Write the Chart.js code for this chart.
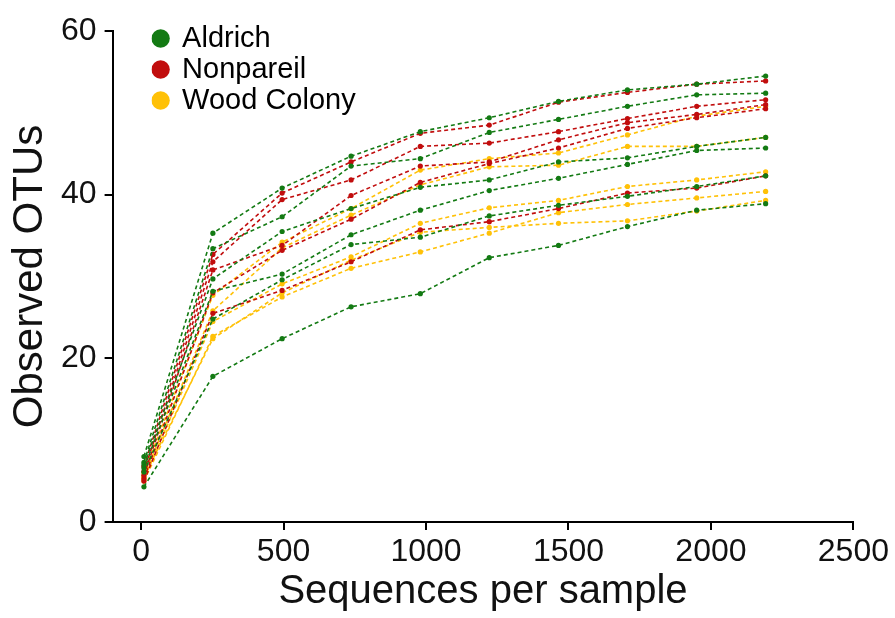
<!DOCTYPE html>
<html>
<head>
<meta charset="utf-8">
<script src="https://cdn.jsdelivr.net/npm/chart.js@4.4.1/dist/chart.umd.min.js"></script>
<style>
  html, body { margin: 0; padding: 0; background: #fff; }
</style>
</head>
<body>
<canvas id="chart" width="895" height="618"></canvas>
<script>
// rarefaction depths (x)
const sequences = [10, 252, 495, 737, 980, 1222, 1465, 1707, 1950, 2192];
const xTickValues = [0, 500, 1000, 1500, 2000, 2500];

// observed OTUs per sample
const aldrich = [
  [8.0, 35.3, 40.8, 44.7, 47.7, 49.4, 51.4, 52.8, 53.5, 54.5],
  [7.3, 33.4, 37.3, 43.5, 44.4, 47.6, 49.2, 50.8, 52.2, 52.4],
  [7.0, 29.7, 35.5, 38.3, 40.9, 41.8, 44.0, 44.5, 45.9, 47.0],
  [6.6, 28.2, 30.3, 35.1, 38.1, 40.5, 42.0, 43.7, 45.4, 45.7],
  [6.1, 24.8, 29.6, 33.9, 34.8, 37.4, 38.7, 39.8, 41.0, 42.3],
  [4.3, 17.8, 22.4, 26.3, 27.9, 32.3, 33.8, 36.1, 38.1, 38.9],
];
const nonpareil = [
  [6.8, 32.7, 40.2, 44.0, 47.5, 48.5, 51.3, 52.5, 53.5, 53.9],
  [6.2, 31.8, 39.4, 41.8, 45.9, 46.3, 47.7, 49.3, 50.8, 51.6],
  [5.7, 30.8, 33.8, 39.9, 43.5, 44.0, 46.7, 48.8, 49.8, 51.0],
  [5.3, 28.0, 33.2, 37.0, 41.5, 43.8, 45.7, 48.1, 49.4, 50.5],
  [5.0, 25.5, 28.3, 31.8, 35.7, 36.7, 38.3, 40.2, 40.8, 42.3],
];
const woodColony = [
  [6.0, 27.7, 34.2, 38.3, 43.0, 44.4, 45.1, 47.3, 49.6, 50.8],
  [5.6, 25.8, 33.5, 37.5, 41.2, 43.4, 43.6, 45.9, 45.9, 47.0],
  [5.3, 24.5, 29.1, 32.4, 36.5, 38.4, 39.3, 41.0, 41.8, 42.8],
  [5.0, 22.7, 27.5, 31.0, 33.0, 35.3, 37.8, 38.8, 39.6, 40.4],
  [5.5, 22.4, 28.0, 32.0, 35.4, 36.0, 36.5, 36.8, 38.0, 39.3],
];

const siteNames = ["Aldrich", "Nonpareil", "Wood Colony"];
const siteColors = ["#137a13", "#c10d0d", "#ffc107"];
const siteCurves = [aldrich, nonpareil, woodColony];

Chart.defaults.font.family = "'Liberation Sans', Arial, sans-serif";
Chart.defaults.color = "#111";

const datasets = [];
siteCurves.forEach((curves, s) => {
  curves.forEach((ys) => {
    datasets.push({
      label: siteNames[s],
      data: ys.map((y, i) => ({ x: sequences[i], y: y })),
      borderColor: siteColors[s],
      backgroundColor: siteColors[s],
      pointBackgroundColor: siteColors[s],
      borderWidth: 1.6,
      borderDash: [4, 3],
      pointRadius: 2.6,
      pointBorderWidth: 0,
      tension: 0,
    });
  });
});

// move the legend into the top-left corner of the plot
const legendShift = {
  id: "legendShift",
  afterLayout(chart) {
    chart.legend.left = chart.chartArea.left + 39;
    chart.legend.top = chart.chartArea.top - 9;
  },
};

const ctx = document.getElementById("chart").getContext("2d");
new Chart(ctx, {
  type: "line",
  data: { datasets },
  plugins: [legendShift],
  options: {
    responsive: false,
    animation: false,
    devicePixelRatio: 1,
    layout: { padding: { top: 31, right: 2, left: 9, bottom: 8 } },
    plugins: {
      tooltip: { enabled: false },
      legend: {
        position: "chartArea",
        align: "start",
        labels: {
          usePointStyle: true,
          pointStyle: "circle",
          boxWidth: 14,
          boxHeight: 13,
          padding: 2,
          font: { size: 29 },
          color: "#111",
          generateLabels() {
            return siteNames.map((name, s) => ({
              text: name,
              fillStyle: siteColors[s],
              strokeStyle: siteColors[s],
              lineWidth: 0,
              lineDash: [],
              pointStyle: "circle",
              hidden: false,
              datasetIndex: datasets.findIndex((d) => d.label === name),
            }));
          },
        },
      },
    },
    scales: {
      x: {
        type: "linear",
        min: -100,
        max: 2500,
        afterBuildTicks(scale) {
          scale.ticks = xTickValues.map((v) => ({ value: v }));
        },
        ticks: {
          font: { size: 32, lineHeight: 1.0 },
          color: "#111",
          padding: 6,
          maxRotation: 0,
          callback: (v) => String(v),
        },
        grid: { drawOnChartArea: false, drawTicks: true, tickLength: 8, color: "#000", lineWidth: 2 },
        border: { display: true, color: "#000", width: 2 },
        title: { display: true, text: "Sequences per sample", font: { size: 40, lineHeight: 0.9 }, color: "#111", padding: { top: 0, bottom: 0 } },
      },
      y: {
        min: 0,
        max: 60,
        ticks: { stepSize: 20, font: { size: 32, lineHeight: 1.0 }, color: "#111", padding: 8 },
        grid: { drawOnChartArea: false, drawTicks: true, tickLength: 8, color: "#000", lineWidth: 2 },
        border: { display: true, color: "#000", width: 2 },
        title: { display: true, text: "Observed OTUs", font: { size: 42, lineHeight: 1.0 }, color: "#111", padding: { top: 0, bottom: 2 } },
      },
    },
  },
});
</script>
</body>
</html>
